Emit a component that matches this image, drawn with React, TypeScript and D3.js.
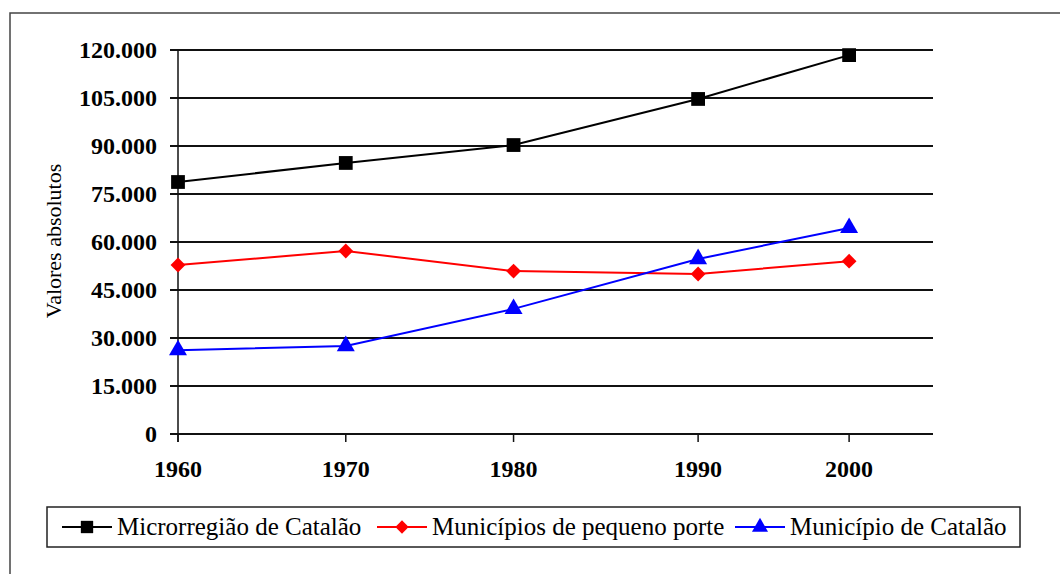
import React, { useEffect, useRef } from "react";
import * as d3 from "d3";

// data
const years = [1960, 1970, 1980, 1991, 2000];
const yearLabels = ["1960", "1970", "1980", "1990", "2000"];
const microrregiao = [78750, 84700, 90300, 104700, 118400];
const pequenoPorte = [52800, 57200, 50900, 50000, 54000];
const catalao = [26200, 27500, 39100, 54700, 64400];
const yTicks = [0, 15000, 30000, 45000, 60000, 75000, 90000, 105000, 120000];

const seriesNames = ["Microrregião de Catalão", "Municípios de pequeno porte", "Município de Catalão"];
const seriesColors = ["#000000", "#ff0000", "#0000ff"];
const seriesShapes = [d3.symbolSquare, d3.symbolSquare, d3.symbolTriangle];
const seriesRotate = [0, 45, 0];
const seriesSizes = [190, 110, 140];

const App = () => {
  const svgRef = useRef<SVGSVGElement>(null);

  useEffect(() => {
    const width = 1060;
    const height = 574;
    const svg = d3.select(svgRef.current).attr("width", width).attr("height", height);
    svg.selectAll("*").remove();

    const font = "'Liberation Serif', 'Times New Roman', serif";

    // outer frame
    svg.append("path")
      .attr("d", `M10,${height} L10,13 L${width},13`)
      .attr("fill", "none")
      .attr("stroke", "#444")
      .attr("stroke-width", 1.5);

    const x = d3.scaleLinear().domain([1960, 2005]).range([178, 933]);
    const y = d3.scaleLinear().domain([0, 120000]).range([434, 50]);

    // horizontal grid lines + tick labels
    const fmt = (v: number) => (v === 0 ? "0" : d3.format(",")(v).replace(/,/g, "."));
    yTicks.forEach((t) => {
      svg.append("line")
        .attr("x1", 170).attr("x2", 933)
        .attr("y1", y(t)).attr("y2", y(t))
        .attr("stroke", "#111").attr("stroke-width", 2);
      svg.append("text")
        .attr("x", 157).attr("y", y(t) + 8)
        .attr("text-anchor", "end")
        .attr("font-family", font).attr("font-weight", "bold").attr("font-size", 24)
        .text(fmt(t));
    });

    // y axis line
    svg.append("line")
      .attr("x1", 178).attr("x2", 178)
      .attr("y1", y(120000)).attr("y2", 442)
      .attr("stroke", "#111").attr("stroke-width", 1.5);

    // x ticks + labels
    years.forEach((yr, i) => {
      svg.append("line")
        .attr("x1", x(yr)).attr("x2", x(yr))
        .attr("y1", 434).attr("y2", 442)
        .attr("stroke", "#111").attr("stroke-width", 1.5);
      svg.append("text")
        .attr("x", x(yr)).attr("y", 477)
        .attr("text-anchor", "middle")
        .attr("font-family", font).attr("font-weight", "bold").attr("font-size", 24)
        .text(yearLabels[i]);
    });

    // y axis title
    svg.append("text")
      .attr("transform", "translate(61,241) rotate(-90)")
      .attr("text-anchor", "middle")
      .attr("font-family", font).attr("font-size", 22)
      .text("Valores absolutos");

    const line = d3.line<number>()
      .x((_, i) => x(years[i]))
      .y((d) => y(d));

    [microrregiao, pequenoPorte, catalao].forEach((vals, s) => {
      svg.append("path")
        .datum(vals)
        .attr("d", line)
        .attr("fill", "none")
        .attr("stroke", seriesColors[s])
        .attr("stroke-width", 2);
      svg.selectAll(null)
        .data(vals)
        .enter()
        .append("path")
        .attr("d", d3.symbol().type(seriesShapes[s]).size(seriesSizes[s]))
        .attr("transform", (d, i) => `translate(${x(years[i])},${y(d)}) rotate(${seriesRotate[s]})`)
        .attr("fill", seriesColors[s]);
    });

    // legend
    svg.append("rect")
      .attr("x", 47).attr("y", 507).attr("width", 973).attr("height", 40)
      .attr("fill", "white").attr("stroke", "#222").attr("stroke-width", 1.5);
    const legendX = [62, 377, 735];
    seriesNames.forEach((name, s) => {
      const lx = legendX[s];
      svg.append("line")
        .attr("x1", lx).attr("x2", lx + 50)
        .attr("y1", 527).attr("y2", 527)
        .attr("stroke", seriesColors[s]).attr("stroke-width", 2);
      svg.append("path")
        .attr("d", d3.symbol().type(seriesShapes[s]).size(seriesSizes[s] * 0.8))
        .attr("transform", `translate(${lx + 25},527) rotate(${seriesRotate[s]})`)
        .attr("fill", seriesColors[s]);
      svg.append("text")
        .attr("x", lx + 55).attr("y", 535)
        .attr("font-family", font).attr("font-size", 25)
        .text(name);
    });
  }, []);

  return <svg ref={svgRef} style={{ position: "absolute", left: 0, top: 0 }}></svg>;
};

export default App;
